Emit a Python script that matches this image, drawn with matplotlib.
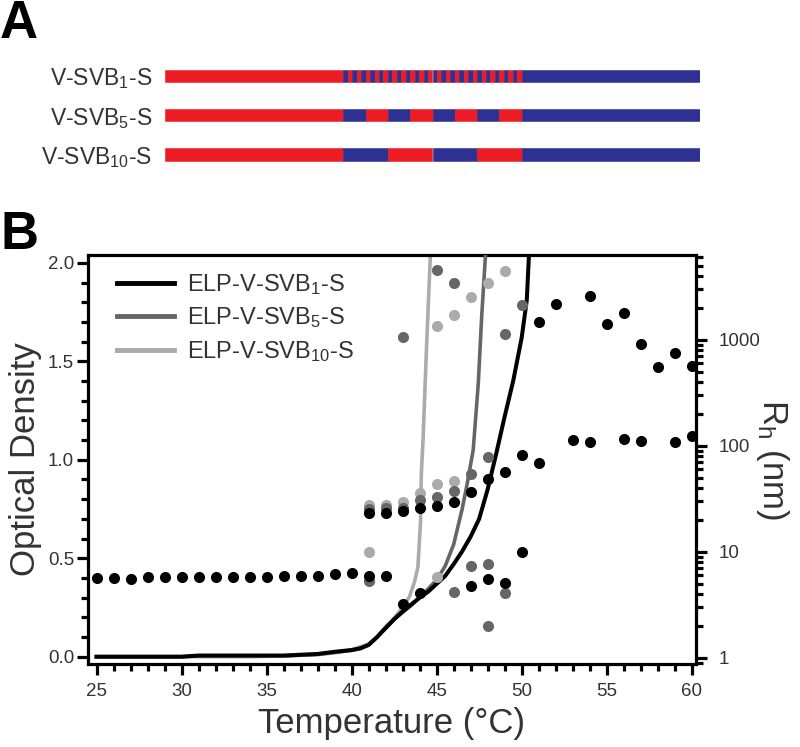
import matplotlib
matplotlib.use('Agg')
import matplotlib.pyplot as plt
import numpy as np
from matplotlib.ticker import MultipleLocator, LogLocator, NullFormatter, FixedLocator, FixedFormatter

plt.rcParams['font.family'] = ['Liberation Sans', 'DejaVu Sans']
plt.rcParams['mathtext.default'] = 'regular'

# ---------------- Panel A data ----------------
construct_labels = ['V-SVB$_1$-S', 'V-SVB$_5$-S', 'V-SVB$_{10}$-S']
block_sizes = [1, 5, 10]          # length of alternating SVB blocks
v_len, svb_len, s_len = 40, 40, 40  # relative domain lengths

# ---------------- Panel B data ----------------
legend_labels = ['ELP-V-SVB$_1$-S', 'ELP-V-SVB$_5$-S', 'ELP-V-SVB$_{10}$-S']

# Turbidity (optical density) vs temperature
t_svb1 = [25, 30, 31, 36, 37, 38, 39, 40, 40.5, 41, 41.5, 42, 42.5, 43, 43.5, 44, 44.5, 45, 45.5,
          46, 46.5, 47, 47.5, 48, 48.5, 49, 49.5, 50, 50.3, 50.45]
od_svb1 = [0.0, 0.0, 0.006, 0.006, 0.01, 0.014, 0.025, 0.034, 0.042, 0.06, 0.10, 0.145, 0.19, 0.23,
           0.265, 0.30, 0.33, 0.37, 0.41, 0.47, 0.535, 0.61, 0.70, 0.85, 1.03, 1.22, 1.40,
           1.62, 1.81, 2.08]
t_svb5 = [25, 30, 31, 36, 37, 38, 39, 40, 40.5, 41, 41.5, 42, 42.5, 43, 43.5, 44, 44.5, 45, 45.5,
          46, 46.5, 46.8, 47.15, 47.45, 47.65, 47.9]
od_svb5 = [0.0, 0.0, 0.004, 0.004, 0.008, 0.012, 0.022, 0.032, 0.042, 0.06, 0.10, 0.15, 0.19, 0.225,
           0.26, 0.30, 0.345, 0.39, 0.46, 0.57, 0.75, 0.88, 1.05, 1.39, 1.73, 2.08]
t_svb10 = [25, 30, 34, 36, 38, 39, 40, 40.5, 41, 41.5, 42, 42.4, 43.0, 43.4, 43.7, 43.9,
           44.05, 44.1, 44.2, 44.4, 44.65]
od_svb10 = [0.0, 0.0, 0.0, 0.004, 0.01, 0.02, 0.035, 0.05, 0.065, 0.10, 0.15, 0.186, 0.25,
            0.305, 0.38, 0.457, 0.68, 0.93, 1.10, 1.56, 2.08]

# Hydrodynamic radius (nm) from DLS
rh_t_svb1 = [25, 26, 27, 28, 29, 30, 31, 32, 33, 34, 35, 36, 37, 38, 39, 40, 41, 42,
             41, 42, 43, 44, 45, 46, 47, 48, 49, 50, 51,
             43, 44, 47, 48, 49, 50,
             51, 52, 54, 55, 56, 57, 58, 59, 60,
             53, 54, 56, 57, 59, 60]
rh_svb1 = [5.6, 5.7, 5.55, 5.75, 5.8, 5.8, 5.8, 5.8, 5.75, 5.75, 5.8, 5.95, 5.95, 5.95, 6.1, 6.35, 5.95, 5.95,
           23, 23, 24.2, 25.7, 27.2, 29.6, 36.8, 48.5, 57, 82, 68,
           3.2, 4.05, 4.75, 5.5, 5.05, 9.9,
           1480, 2170, 2580, 1400, 1770, 915, 550, 745, 565,
           114, 108, 117, 111, 108, 124]
rh_t_svb5 = [41, 41, 42, 43, 44, 45, 46, 47, 48,
             43, 45, 46, 49, 50,
             46, 47, 48, 49, 48]
rh_svb5 = [5.3, 25.5, 25.7, 25.7, 30.8, 33, 37.6, 54, 77.7,
           1067, 4545, 3400, 1130, 2125,
           4.2, 7.4, 7.6, 4.05, 2.0]
rh_t_svb10 = [41, 41, 42, 43, 44, 45, 46,
              45,
              45, 46, 47, 48, 49]
rh_svb10 = [9.9, 27.5, 27.6, 29.6, 36, 43.2, 46.7,
            5.8,
            1346, 1710, 2547, 3400, 4446]

# ---------------- styles ----------------
RED, BLUE = '#ED1C24', '#2E3192'
C1, C5, C10 = '#000000', '#666666', '#ababab'
TXT = '#333333'
W, H = 800, 747

fig = plt.figure(figsize=(8, 7.47), dpi=100)

# ---------------- Panel A ----------------
axA = fig.add_axes([165 / W, 1 - 172 / H, 535 / W, 112 / H])
for row, bs in enumerate(block_sizes):
    segs = [(v_len, RED)]
    nblk = svb_len // bs
    segs += [(bs, BLUE if k % 2 == 0 else RED) for k in range(nblk)]
    segs += [(s_len, BLUE)]
    left = 0
    for length, col in segs:
        axA.barh(row, length, left=left, height=0.31, color=col, edgecolor=col, linewidth=0.4)
        left += length
axA.set_xlim(0, v_len + svb_len + s_len)
axA.set_ylim(2.446, -0.408)
axA.set_yticks(range(len(construct_labels)))
axA.set_yticklabels(construct_labels, color=TXT, fontsize=16.5, va='center_baseline')
axA.tick_params(axis='y', length=0, pad=9)
axA.set_xticks([])
for s in axA.spines.values():
    s.set_visible(False)

fig.text(0.0, 1 - 38 / H, 'A', fontsize=38, fontweight='bold', ha='left', va='baseline')
fig.text(0.0, 1 - 249 / H, 'B', fontsize=38, fontweight='bold', ha='left', va='baseline')

# ---------------- Panel B ----------------
ax = fig.add_axes([88 / W, 1 - 664 / H, (696 - 88) / W, (664 - 255) / H])
ax.plot(t_svb10, od_svb10, color=C10, lw=2.6, label=legend_labels[2], zorder=2)
ax.plot(t_svb5, od_svb5, color=C5, lw=2.6, label=legend_labels[1], zorder=3)
ax.plot(t_svb1, od_svb1, color=C1, lw=2.9, label=legend_labels[0], zorder=4)
ax.set_xlim(24.5, 60.25)
ax.set_ylim(-0.037, 2.04)
ax.xaxis.set_major_locator(MultipleLocator(5))
ax.xaxis.set_minor_locator(MultipleLocator(1))
ax.yaxis.set_major_locator(MultipleLocator(0.5))
ax.yaxis.set_minor_locator(MultipleLocator(0.1))
ax.yaxis.set_major_formatter(plt.FuncFormatter(lambda v, p: f'{v:.1f}'))
for s in ['left', 'top', 'bottom', 'right']:
    ax.spines[s].set_linewidth(2.3)
ax.spines['right'].set_visible(False)
ax.tick_params(which='major', direction='out', length=8, width=2.3, colors='black',
               labelcolor=TXT, labelsize=13.5)
ax.tick_params(which='minor', direction='out', length=5, width=2.3)
ax.tick_params(axis='x', pad=6)
ax.tick_params(axis='y', pad=2)
ax.set_xlabel('Temperature (°C)', fontsize=25, color=TXT, labelpad=5)
ax.set_ylabel('Optical Density', fontsize=25, color=TXT, labelpad=4)

handles, labels = ax.get_legend_handles_labels()
order = [2, 1, 0]
leg = ax.legend([handles[i] for i in order], [labels[i] for i in order], loc='upper left',
                bbox_to_anchor=(0.012, 1.01), frameon=False, handlelength=2.45,
                handletextpad=0.55, labelspacing=0.36, prop={'size': 17})
for t in leg.get_texts():
    t.set_color(TXT)
for l in leg.get_lines():
    l.set_linewidth(3.5)

ax2 = ax.twinx()
ax2.set_yscale('log')
ax2.set_ylim(0.873, 6300)
ax2.scatter(rh_t_svb10, rh_svb10, s=64, color=C10, linewidths=0, zorder=3)
ax2.scatter(rh_t_svb5, rh_svb5, s=64, color=C5, linewidths=0, zorder=4)
ax2.scatter(rh_t_svb1, rh_svb1, s=64, color=C1, linewidths=0, zorder=5)
ax2.yaxis.set_major_locator(FixedLocator([1, 10, 100, 1000]))
ax2.yaxis.set_major_formatter(FixedFormatter(['1', '10', '100', '1000']))
ax2.yaxis.set_minor_locator(LogLocator(base=10, subs=np.arange(2, 10), numticks=20))
ax2.yaxis.set_minor_formatter(NullFormatter())
for s in ['left', 'top', 'bottom']:
    ax2.spines[s].set_visible(False)
ax2.spines['right'].set_linewidth(2.3)
ax2.tick_params(which='major', direction='out', length=8, width=2.3, colors='black',
                labelcolor=TXT, labelsize=13.5, pad=8)
ax2.tick_params(which='minor', direction='out', length=5, width=2.3)
ax2.set_ylabel('R$_h$ (nm)', fontsize=25, color=TXT, rotation=270, labelpad=22)

fig.savefig('out.png', dpi=100)
